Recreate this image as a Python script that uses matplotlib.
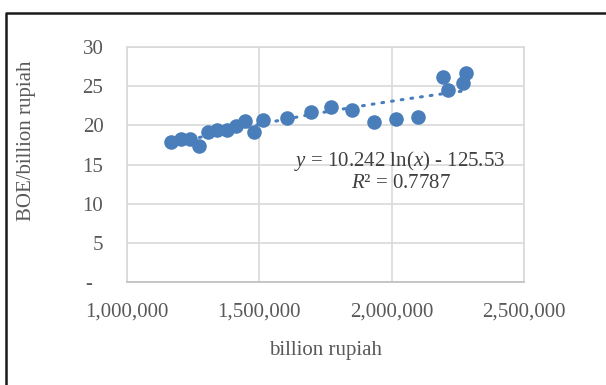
import numpy as np
import matplotlib
matplotlib.use("Agg")
import matplotlib.pyplot as plt
from matplotlib.lines import Line2D
from matplotlib.ticker import FixedLocator, FuncFormatter

# Revenue (billion rupiah) vs. BOE per billion rupiah
revenue = [1166000, 1203000, 1238000, 1273000, 1307000, 1341000, 1376000,
           1411000, 1445000, 1479000, 1514000, 1605000, 1697000, 1770000,
           1852000, 1933000, 2015000, 2101000, 2194000, 2213000, 2282000,
           2269000]
boe_per_billion = [17.9, 18.3, 18.3, 17.4, 19.1, 19.4, 19.4,
                   19.9, 20.6, 19.1, 20.7, 20.9, 21.7, 22.3,
                   21.9, 20.4, 20.8, 21.1, 26.2, 24.5, 26.7,
                   25.4]

# Logarithmic trendline y = a ln(x) + b
trend_a = 10.242
trend_b = -125.53
r_squared = 0.7787

x_ticks = [1000000, 1500000, 2000000, 2500000]
y_ticks = [0, 5, 10, 15, 20, 25, 30]

serif = "Liberation Serif"
plt.rcParams["font.family"] = serif
plt.rcParams["mathtext.fontset"] = "custom"
plt.rcParams["mathtext.rm"] = serif
plt.rcParams["mathtext.it"] = serif + ":italic"

blue = "#4A7EBB"
grid = "#D9D9D9"
tick_col = "#595959"
text_col = "#404040"
fs = 15
W, H = 606, 385

fig = plt.figure(figsize=(W / 100, H / 100), dpi=100)
ax = fig.add_axes([127 / W, 1 - 282.2 / H, (524 - 127) / W, (282.2 - 46.8) / H])

ax.set_xlim(x_ticks[0], x_ticks[-1])
ax.set_ylim(y_ticks[0], y_ticks[-1])
ax.xaxis.set_major_locator(FixedLocator(x_ticks))
ax.yaxis.set_major_locator(FixedLocator(y_ticks))
ax.xaxis.set_major_formatter(FuncFormatter(lambda v, p: f"{int(v):,}"))
ax.yaxis.set_major_formatter(FuncFormatter(lambda v, p: "-  " if v == 0 else f"{int(v)}"))

ax.grid(True, color=grid, linewidth=1.2)
ax.set_axisbelow(True)
for s in ax.spines.values():
    s.set_color(grid)
    s.set_linewidth(1.2)
ax.spines["bottom"].set_color("#BFBFBF")
ax.tick_params(axis="both", length=0, colors=tick_col, labelsize=fs)
ax.tick_params(axis="x", pad=15)
ax.tick_params(axis="y", pad=17)

# trendline over the data range
tx = np.linspace(min(revenue), max(revenue), 200)
ty = trend_a * np.log(tx) + trend_b
ax.plot(tx, ty, color=blue, linewidth=2.2, linestyle=(0, (0.6, 2.6)),
        dash_capstyle="round", zorder=2)

ax.plot(revenue, boe_per_billion, "o", color=blue, markersize=10.5,
        markeredgewidth=0, zorder=3)

fig.text(400 / W, 1 - 160.7 / H, r"$y$ = 10.242 ln($x$) - 125.53",
         fontsize=fs, color=text_col, ha="center", va="center")
fig.text(401 / W, 1 - 183.3 / H, r"$R$² = 0.7787",
         fontsize=fs, color=text_col, ha="center", va="center")

fig.text(325.5 / W, 1 - 351 / H, "billion rupiah", fontsize=fs,
         color=tick_col, ha="center", va="center")
fig.text(27 / W, 1 - 141 / H, "BOE/billion rupiah", fontsize=fs,
         color=tick_col, ha="center", va="center", rotation=90)

# outer chart frame (left and top edges)
fig.add_artist(Line2D([5.5 / W, 5.5 / W, 1.0], [0.0, 1 - 13 / H, 1 - 13 / H],
                      transform=fig.transFigure, color="#1A1A1A", linewidth=1.8))

fig.savefig("out.png", dpi=100)
